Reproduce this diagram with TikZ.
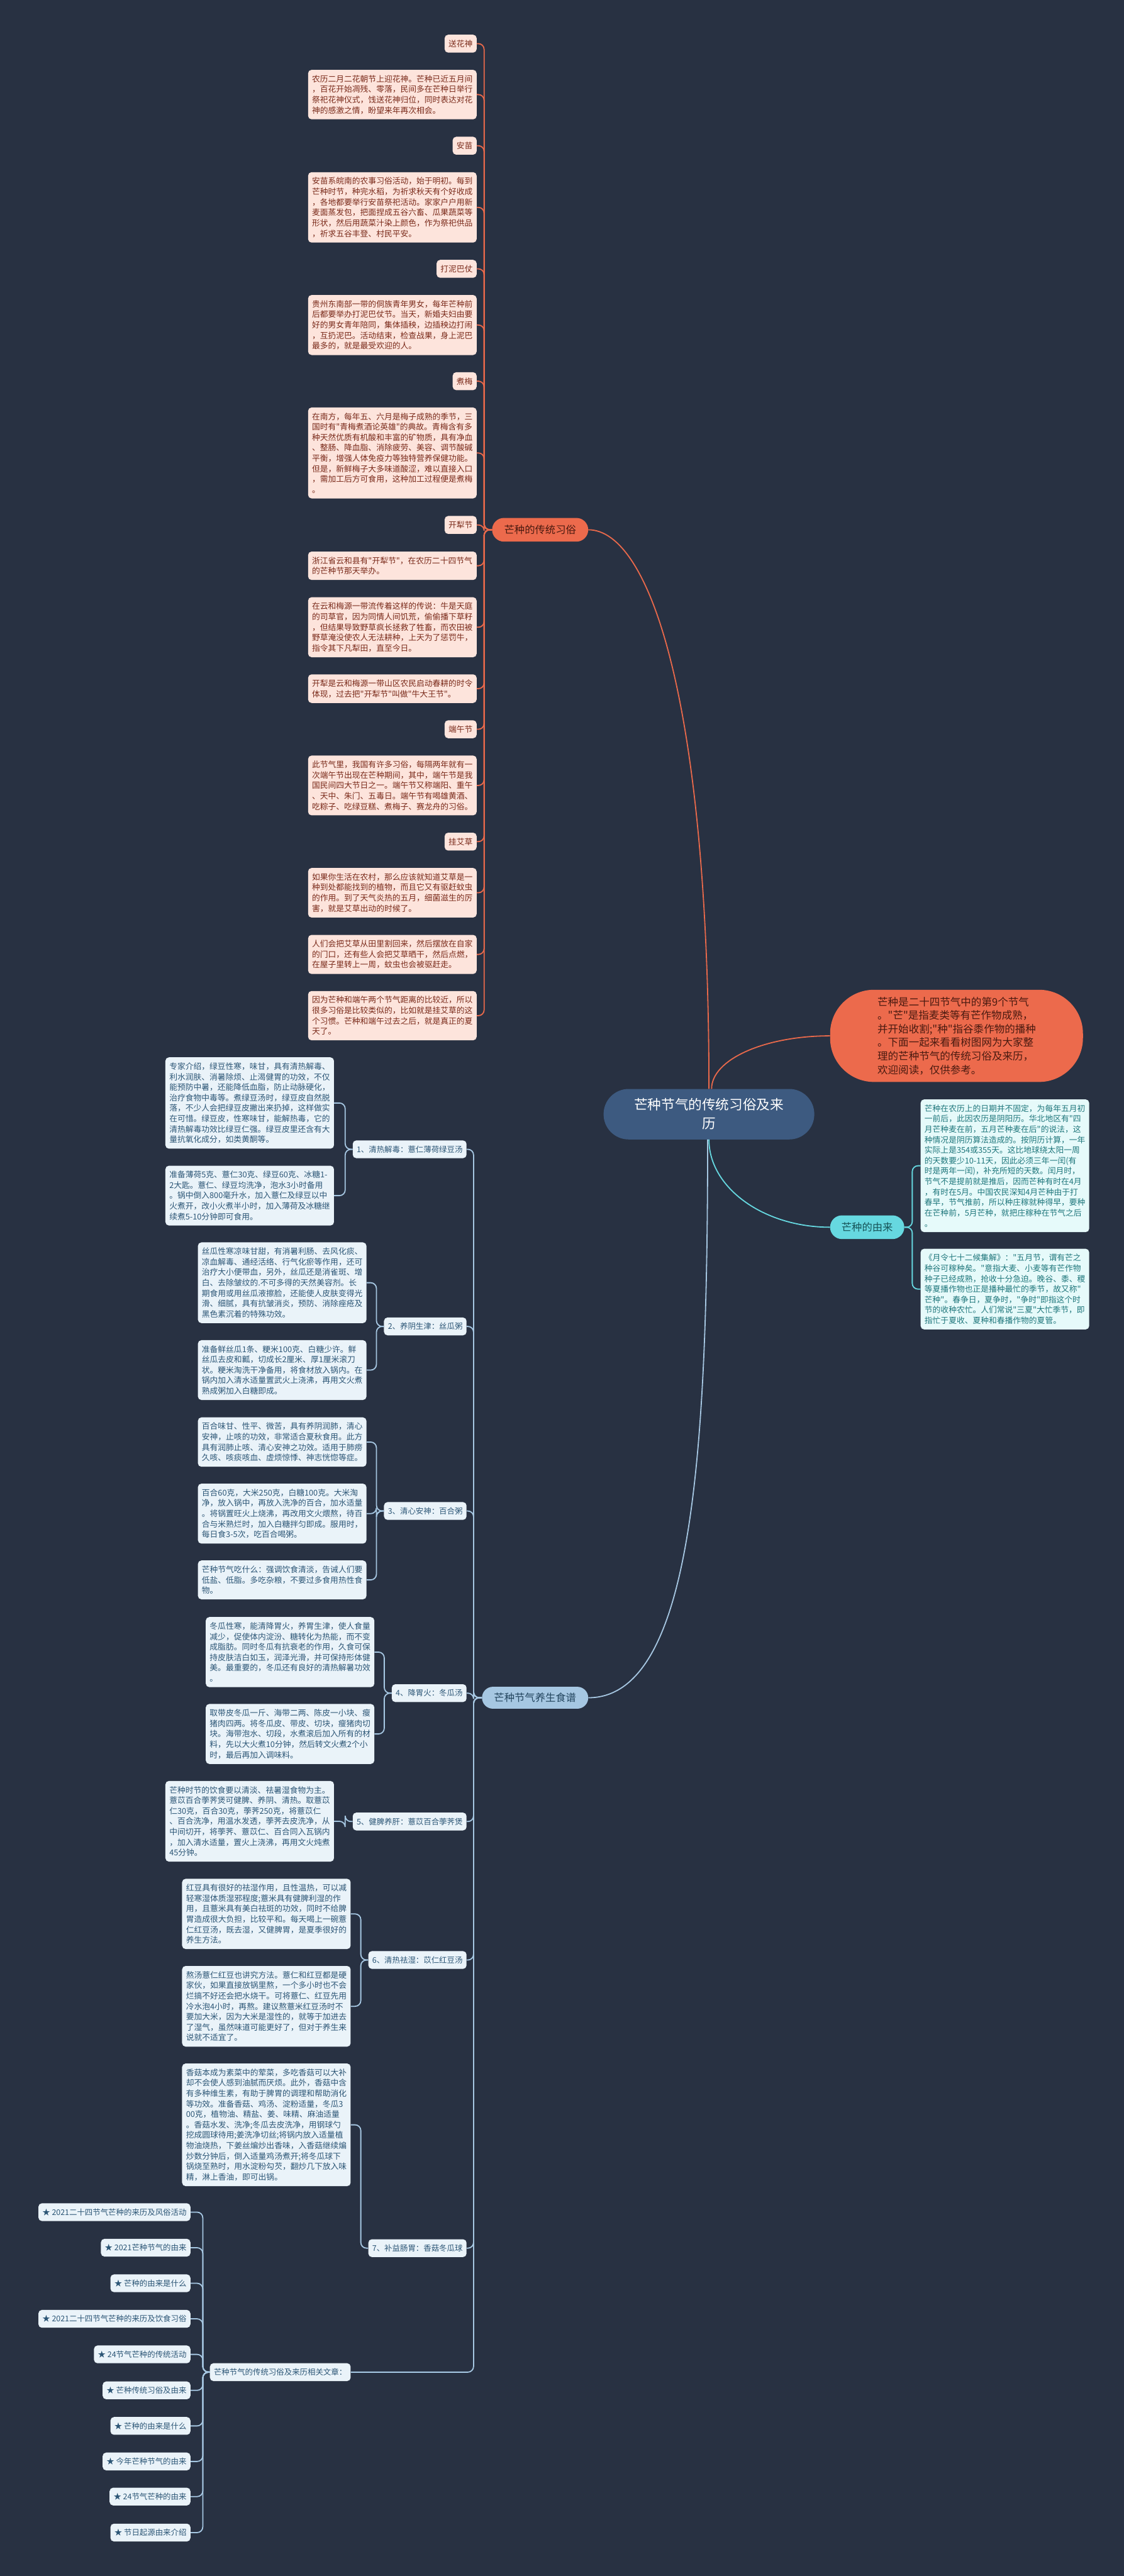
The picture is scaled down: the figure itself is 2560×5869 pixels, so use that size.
\documentclass[tikz,border=0pt]{standalone}
\usepackage{fontspec}
\newfontfamily\cjkfont{Noto Sans CJK SC}
\usetikzlibrary{positioning}
\definecolor{bgc}{HTML}{283142}
\definecolor{rootc}{HTML}{3D5A80}
\definecolor{orc}{HTML}{EC6A4C}
\definecolor{orline}{HTML}{E8694B}
\definecolor{pinkc}{HTML}{FDE4DC}
\definecolor{browntx}{HTML}{7A2A1A}
\definecolor{darktx}{HTML}{4A1A10}
\definecolor{cyanc}{HTML}{66D8E0}
\definecolor{cyanbox}{HTML}{E6FAFA}
\definecolor{tealtx}{HTML}{1F777C}
\definecolor{bluec}{HTML}{A6C7E2}
\definecolor{bluebox}{HTML}{EAF3F9}
\definecolor{navytx}{HTML}{2C5676}
\exhyphenpenalty=10000
\hyphenpenalty=10000

\begin{document}
\begin{tikzpicture}[
  x=1pt, y=-1pt,
  base/.style={font={\cjkfont\fontsize{18.3pt}{23.8pt}\selectfont}, rounded corners=8pt, inner xsep=9pt, inner ysep=12pt, anchor=east},
  para/.style={base, fill=pinkc, text=browntx, text width=366pt, align=left},
  tag/.style={base, fill=pinkc, text=browntx},
  cpara/.style={base, fill=cyanbox, text=tealtx, text width=366pt, align=left, anchor=west},
  bpara/.style={base, fill=bluebox, text=navytx, text width=366pt, align=left},
  btag/.style={base, fill=bluebox, text=navytx, font={\cjkfont\fontsize{17.8pt}{22pt}\selectfont}},
  branch/.style={font={\cjkfont\fontsize{23.4pt}{28pt}\selectfont}, minimum height=54pt, rounded corners=27pt, inner xsep=0pt},
  rootnode/.style={fill=rootc, text=white, font={\cjkfont\fontsize{31pt}{43pt}\selectfont}, minimum width=480pt, minimum height=115pt, rounded corners=57pt, align=center},
  intro/.style={fill=orc, text=darktx, font={\cjkfont\fontsize{23.7pt}{31pt}\selectfont}, minimum width=576pt, minimum height=210pt, rounded corners=100pt, text width=360pt, align=left, inner xsep=0pt},
  oline/.style={draw=orline, line width=2.6pt, rounded corners=13pt},
  cline/.style={draw=cyanc, line width=2.6pt, rounded corners=13pt},
  bline/.style={draw=bluec, line width=2.6pt, rounded corners=13pt},
]
\fill[bgc] (0,0) rectangle (2560,5869);
\useasboundingbox (0,0) rectangle (2560,5869);

% centre and main branches
\node[rootnode] (root) at (1615,2538.5) {芒种节气的传统习俗及来\\历};
\node[intro] (intro) at (2179,2360) {芒种是二十四节气中的第9个节气\\。"芒"是指麦类等有芒作物成熟，\\并开始收割;"种"指谷黍作物的播种\\。下面一起来看看树图网为大家整\\理的芒种节气的传统习俗及来历，\\欢迎阅读，仅供参考。};
\node[branch, fill=orc, text=darktx, minimum width=219pt] (trad) at (1230.5,1207) {芒种的传统习俗};
\node[branch, fill=cyanc, text=tealtx!70!black, minimum width=169pt] (origin) at (1975.5,2796) {芒种的由来};
\node[branch, fill=bluec, text=navytx!80!black, minimum width=242pt, minimum height=50pt, rounded corners=25pt] (diet) at (1219,3868) {芒种节气养生食谱};

\draw[oline, rounded corners=0pt] (root.north) .. controls +(0,-880) and +(140,0) .. (trad.east);
\draw[oline, rounded corners=0pt] ([xshift=6pt]root.north) .. controls +(0,-67) and +(-149,0) .. (intro.west);
\draw[cline, rounded corners=0pt] (root.south) .. controls +(0,110) and +(-151,0) .. (origin.west);
\draw[bline, rounded corners=0pt] ([xshift=-3pt]root.south) .. controls +(0,700) and +(240,0) .. (diet.east);

% traditions
\node[tag] (songhua) at (1086,99.5) {送花神};
\node[para] (songhuaTxt) at (1086,215.5) {农历二月二花朝节上迎花神。芒种已近五月间\\，百花开始凋残、零落，民间多在芒种日举行\\祭祀花神仪式，饯送花神归位，同时表达对花\\神的感激之情，盼望来年再次相会。};
\node[tag] (anmiao) at (1086,332) {安苗};
\node[para] (anmiaoTxt) at (1086,472.5) {安苗系皖南的农事习俗活动，始于明初。每到\\芒种时节，种完水稻，为祈求秋天有个好收成\\，各地都要举行安苗祭祀活动。家家户户用新\\麦面蒸发包，把面捏成五谷六畜、瓜果蔬菜等\\形状，然后用蔬菜汁染上颜色，作为祭祀供品\\，祈求五谷丰登、村民平安。};
\node[tag] (niba) at (1086,612.5) {打泥巴仗};
\node[para] (nibaTxt) at (1086,740.5) {贵州东南部一带的侗族青年男女，每年芒种前\\后都要举办打泥巴仗节。当天，新婚夫妇由要\\好的男女青年陪同，集体插秧，边插秧边打闹\\，互扔泥巴。活动结束，检查战果，身上泥巴\\最多的，就是最受欢迎的人。};
\node[tag] (zhumei) at (1086,868.5) {煮梅};
\node[para] (zhumeiTxt) at (1086,1032) {在南方，每年五、六月是梅子成熟的季节，三\\国时有"青梅煮酒论英雄"的典故。青梅含有多\\种天然优质有机酸和丰富的矿物质，具有净血\\、整肠、降血脂、消除疲劳、美容、调节酸碱\\平衡，增强人体免疫力等独特营养保健功能。\\但是，新鲜梅子大多味道酸涩，难以直接入口\\，需加工后方可食用，这种加工过程便是煮梅\\。};
\node[tag] (kaili) at (1086,1196) {开犁节};
\node[para] (kailiTxtA) at (1086,1289) {浙江省云和县有"开犁节"，在农历二十四节气\\的芒种节那天举办。};
\node[para] (kailiTxtB) at (1086,1429) {在云和梅源一带流传着这样的传说：牛是天庭\\的司草官，因为同情人间饥荒，偷偷播下草籽\\，但结果导致野草疯长拯救了牲畜，而农田被\\野草淹没使农人无法耕种，上天为了惩罚牛，\\指令其下凡犁田，直至今日。};
\node[para] (kailiTxtC) at (1086,1569) {开犁是云和梅源一带山区农民启动春耕的时令\\体现，过去把"开犁节"叫做"牛大王节"。};
\node[tag] (duanwu) at (1086,1661.5) {端午节};
\node[para] (duanwuTxt) at (1086,1789.5) {此节气里，我国有许多习俗，每隔两年就有一\\次端午节出现在芒种期间，其中，端午节是我\\国民间四大节日之一。端午节又称端阳、重午\\、天中、朱门、五毒日。端午节有喝雄黄酒、\\吃粽子、吃绿豆糕、煮梅子、赛龙舟的习俗。};
\node[tag] (aicao) at (1086,1917.5) {挂艾草};
\node[para] (aicaoTxtA) at (1086,2034) {如果你生活在农村，那么应该就知道艾草是一\\种到处都能找到的植物，而且它又有驱赶蚊虫\\的作用。到了天气炎热的五月，细菌滋生的厉\\害，就是艾草出动的时候了。};
\node[para] (aicaoTxtB) at (1086,2174.5) {人们会把艾草从田里割回来，然后摆放在自家\\的门口，还有些人会把艾草晒干，然后点燃，\\在屋子里转上一周，蚊虫也会被驱赶走。};
\node[para] (aicaoTxtC) at (1086,2314) {因为芒种和端午两个节气距离的比较近，所以\\很多习俗是比较类似的，比如就是挂艾草的这\\个习惯。芒种和端午过去之后，就是真正的夏\\天了。};
\foreach \n in {songhua,songhuaTxt,anmiao,anmiaoTxt,niba,nibaTxt,zhumei,zhumeiTxt,kaili,kailiTxtA,kailiTxtB,kailiTxtC,duanwu,duanwuTxt,aicao,aicaoTxtA,aicaoTxtB,aicaoTxtC}
  { \draw[oline] (trad.west) -- ++(-18,0) |- (\n.east); }

% origin
\node[cpara] (originA) at (2097,2656) {芒种在农历上的日期并不固定，为每年五月初\\一前后，此因农历是阴阳历。华北地区有"四\\月芒种麦在前，五月芒种麦在后"的说法，这\\种情况是阴历算法造成的。按阴历计算，一年\\实际上是354或355天。这比地球绕太阳一周\\的天数要少10-11天，因此必须三年一闰(有\\时是两年一闰)，补充所短的天数。闰月时，\\节气不是提前就是推后，因而芒种有时在4月\\，有时在5月。中国农民深知4月芒种由于打\\春早，节气推前，所以种庄稼就种得早，要种\\在芒种前，5月芒种，就把庄稼种在节气之后\\。};
\node[cpara] (originB) at (2097,2937) {《月令七十二候集解》："五月节，谓有芒之\\种谷可稼种矣。"意指大麦、小麦等有芒作物\\种子已经成熟，抢收十分急迫。晚谷、黍、稷\\等夏播作物也正是播种最忙的季节，故又称"\\芒种"。春争日，夏争时，"争时"即指这个时\\节的收种农忙。人们常说"三夏"大忙季节，即\\指忙于夏收、夏种和春播作物的夏管。};
\foreach \n in {originA,originB}
  { \draw[cline] (origin.east) -- ++(18,0) |- (\n.west); }

% recipes
\node[btag] (rec1) at (1063,2618.5) {1、清热解毒：薏仁薄荷绿豆汤};
\node[bpara] (rec1a) at (761,2513) {专家介绍，绿豆性寒，味甘，具有清热解毒、\\利水润肤、消暑除烦、止渴健胃的功效，不仅\\能预防中暑，还能降低血脂，防止动脉硬化，\\治疗食物中毒等。煮绿豆汤时，绿豆皮自然脱\\落，不少人会把绿豆皮撇出来扔掉，这样做实\\在可惜。绿豆皮，性寒味甘，能解热毒，它的\\清热解毒功效比绿豆仁强。绿豆皮里还含有大\\量抗氧化成分，如类黄酮等。};
\node[bpara] (rec1b) at (761,2724) {准备薄荷5克、薏仁30克、绿豆60克、冰糖1-\\2大匙。薏仁、绿豆均洗净，泡水3小时备用\\。锅中倒入800毫升水，加入薏仁及绿豆以中\\火煮开，改小火煮半小时，加入薄荷及冰糖继\\续煮5-10分钟即可食用。};
\node[btag] (rec2) at (1063,3022) {2、养阴生津：丝瓜粥};
\node[bpara] (rec2a) at (835,2922.5) {丝瓜性寒凉味甘甜，有消暑利肠、去风化痰、\\凉血解毒、通经活络、行气化瘀等作用，还可\\治疗大小便带血，另外，丝瓜还是消雀斑、增\\白、去除皱纹的.不可多得的天然美容剂。长\\期食用或用丝瓜液擦脸，还能使人皮肤变得光\\滑、细腻，具有抗皱消炎，预防、消除痤疮及\\黑色素沉着的特殊功效。};
\node[bpara] (rec2b) at (835,3121.5) {准备鲜丝瓜1条、粳米100克、白糖少许。鲜\\丝瓜去皮和瓤，切成长2厘米、厚1厘米滚刀\\状。粳米淘洗干净备用，将食材放入锅内。在\\锅内加入清水适量置武火上浇沸，再用文火煮\\熟成粥加入白糖即成。};
\node[btag] (rec3) at (1063,3442.5) {3、清心安神：百合粥};
\node[bpara] (rec3a) at (835,3285.5) {百合味甘、性平、微苦，具有养阴润肺，清心\\安神，止咳的功效，非常适合夏秋食用。此方\\具有润肺止咳、清心安神之功效。适用于肺痨\\久咳、咳痰咳血、虚烦惊悸、神志恍惚等症。};
\node[bpara] (rec3b) at (835,3448.5) {百合60克，大米250克，白糖100克。大米淘\\净，放入锅中，再放入洗净的百合，加水适量\\。将锅置旺火上烧沸，再改用文火煨熬，待百\\合与米熟烂时，加入白糖拌匀即成。服用时，\\每日食3-5次，吃百合喝粥。};
\node[bpara] (rec3c) at (835,3599.5) {芒种节气吃什么：强调饮食清淡，告诫人们要\\低盐、低脂。多吃杂粮，不要过多食用热性食\\物。};
\node[btag] (rec4) at (1063,3857.5) {4、降胃火：冬瓜汤};
\node[bpara] (rec4a) at (853,3764) {冬瓜性寒，能清降胃火，养胃生津，使人食量\\减少，促使体内淀汾、糖转化为热能，而不变\\成脂肪。同时冬瓜有抗衰老的作用，久食可保\\持皮肤洁白如玉，润泽光滑，并可保持形体健\\美。最重要的，冬瓜还有良好的清热解暑功效\\。};
\node[bpara] (rec4b) at (853,3950.5) {取带皮冬瓜一斤、海带二两、陈皮一小块、瘦\\猪肉四两。将冬瓜皮、带皮、切块，瘦猪肉切\\块。海带泡水、切段，水煮滚后加入所有的材\\料，先以大火煮10分钟，然后转文火煮2个小\\时，最后再加入调味料。};
\node[btag] (rec5) at (1063,4150) {5、健脾养肝：薏苡百合荸荠煲};
\node[bpara] (rec5a) at (761,4149.5) {芒种时节的饮食要以清淡、祛暑湿食物为主。\\薏苡百合荸荠煲可健脾、养阴、清热。取薏苡\\仁30克，百合30克，荸荠250克，将薏苡仁\\、百合洗净，用温水发透，荸荠去皮洗净，从\\中间切开，将荸荠、薏苡仁、百合同入瓦锅内\\，加入清水适量，置火上浇沸，再用文火炖煮\\45分钟。};
\node[btag] (rec6) at (1063,4465.5) {6、清热祛湿：苡仁红豆汤};
\node[bpara] (rec6a) at (799,4360.5) {红豆具有很好的祛湿作用，且性温热，可以减\\轻寒湿体质湿邪程度;薏米具有健脾利湿的作\\用，且薏米具有美白祛斑的功效，同时不给脾\\胃造成很大负担，比较平和。每天喝上一碗薏\\仁红豆汤，既去湿，又健脾胃，是夏季很好的\\养生方法。};
\node[bpara] (rec6b) at (799,4571) {熬汤薏仁红豆也讲究方法。薏仁和红豆都是硬\\家伙，如果直接放锅里熬，一个多小时也不会\\烂搞不好还会把水烧干。可将薏仁、红豆先用\\冷水泡4小时，再熬。建议熬薏米红豆汤时不\\要加大米，因为大米是湿性的，就等于加进去\\了湿气，虽然味道可能更好了，但对于养生来\\说就不适宜了。};
\node[btag] (rec7) at (1063,5122) {7、补益肠胃：香菇冬瓜球};
\node[bpara] (rec7a) at (799,4841) {香菇本成为素菜中的荤菜，多吃香菇可以大补\\却不会使人感到油腻而厌烦。此外，香菇中含\\有多种维生素，有助于脾胃的调理和帮助消化\\等功效。准备香菇、鸡汤、淀粉适量，冬瓜3\\00克，植物油、精盐、姜、味精、麻油适量\\。香菇水发、洗净;冬瓜去皮洗净，用钢球勺\\挖成圆球待用;姜洗净切丝;将锅内放入适量植\\物油烧热，下姜丝煸炒出香味，入香菇继续煸\\炒数分钟后，倒入适量鸡汤煮开;将冬瓜球下\\锅烧至熟时，用水淀粉勾芡，翻炒几下放入味\\精，淋上香油，即可出锅。};
\node[btag] (related) at (799,5404.5) {芒种节气的传统习俗及来历相关文章：};
\foreach \n in {rec1,rec2,rec3,rec4,rec5,rec6,rec7,related}
  { \draw[bline] (diet.west) -- ++(-19,0) |- (\n.east); }
\foreach \p/\c in {rec1/rec1a,rec1/rec1b,rec2/rec2a,rec2/rec2b,rec3/rec3a,rec3/rec3b,rec3/rec3c,rec4/rec4a,rec4/rec4b,rec5/rec5a,rec6/rec6a,rec6/rec6b,rec7/rec7a}
  { \draw[bline] (\p.west) -- ++(-17,0) |- (\c.east); }

% related articles
\node[btag] (art1) at (434,5040) {★ 2021二十四节气芒种的来历及风俗活动};
\node[btag] (art2) at (434,5121) {★ 2021芒种节气的由来};
\node[btag] (art3) at (434,5202) {★ 芒种的由来是什么};
\node[btag] (art4) at (434,5283) {★ 2021二十四节气芒种的来历及饮食习俗};
\node[btag] (art5) at (434,5364) {★ 24节气芒种的传统活动};
\node[btag] (art6) at (434,5446) {★ 芒种传统习俗及由来};
\node[btag] (art7) at (434,5527) {★ 芒种的由来是什么};
\node[btag] (art8) at (434,5608) {★ 今年芒种节气的由来};
\node[btag] (art9) at (434,5688) {★ 24节气芒种的由来};
\node[btag] (art10) at (434,5770) {★ 节日起源由来介绍};
\foreach \i in {1,...,10}
  { \draw[bline] (related.west) -- ++(-16,0) |- (art\i.east); }
\end{tikzpicture}
\end{document}
